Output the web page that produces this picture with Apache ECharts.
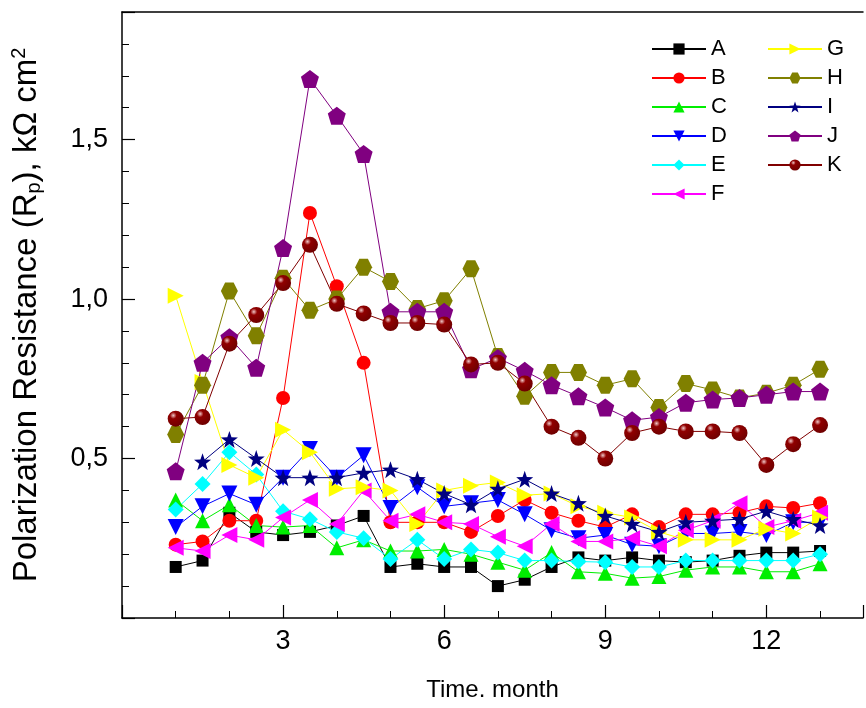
<!DOCTYPE html>
<html>
<head>
<meta charset="utf-8">
<script src="https://cdn.jsdelivr.net/npm/echarts@6/dist/echarts.min.js"></script>
<style>
  html, body { margin: 0; padding: 0; background: #fff; }
  #chart { width: 866px; height: 708px; }
</style>
</head>
<body>
<div id="chart"></div>
<script>
// time points, month
var months = [1, 1.5, 2, 2.5, 3, 3.5, 4, 4.5, 5, 5.5, 6, 6.5, 7, 7.5, 8, 8.5, 9, 9.5, 10, 10.5, 11, 11.5, 12, 12.5, 13];

// Rp values, kOhm cm2
var A = [0.16, 0.18, 0.33, 0.27, 0.26, 0.27, 0.29, 0.32, 0.16, 0.17, 0.16, 0.16, 0.10, 0.12, 0.16, 0.19, 0.18, 0.19, 0.18, 0.175, 0.18, 0.195, 0.205, 0.205, 0.21];
var B = [0.23, 0.24, 0.305, 0.305, 0.69, 1.27, 1.04, 0.80, 0.30, 0.30, 0.30, 0.27, 0.32, 0.37, 0.33, 0.305, 0.285, 0.325, 0.285, 0.325, 0.325, 0.33, 0.35, 0.345, 0.36];
var C = [0.37, 0.305, 0.355, 0.29, 0.285, 0.29, 0.22, 0.245, 0.21, 0.21, 0.215, 0.20, 0.175, 0.15, 0.205, 0.145, 0.14, 0.125, 0.13, 0.15, 0.16, 0.16, 0.145, 0.145, 0.17];
var D = [0.285, 0.35, 0.39, 0.355, 0.44, 0.53, 0.44, 0.51, 0.345, 0.41, 0.35, 0.36, 0.37, 0.325, 0.275, 0.25, 0.26, 0.23, 0.225, 0.265, 0.265, 0.27, 0.26, 0.30, 0.30];
var E = [0.34, 0.42, 0.52, 0.45, 0.335, 0.31, 0.27, 0.25, 0.185, 0.245, 0.185, 0.215, 0.205, 0.18, 0.18, 0.177, 0.175, 0.16, 0.16, 0.18, 0.18, 0.18, 0.18, 0.18, 0.20];
var F = [0.22, 0.21, 0.26, 0.245, 0.315, 0.37, 0.295, 0.40, 0.305, 0.325, 0.30, 0.295, 0.255, 0.225, 0.295, 0.24, 0.24, 0.25, 0.225, 0.275, 0.305, 0.36, 0.285, 0.305, 0.33];
var G = [1.01, 0.74, 0.48, 0.44, 0.59, 0.52, 0.405, 0.41, 0.40, 0.295, 0.40, 0.415, 0.425, 0.385, 0.39, 0.35, 0.33, 0.315, 0.27, 0.245, 0.245, 0.245, 0.28, 0.265, 0.315];
var H = [0.575, 0.73, 1.025, 0.885, 1.065, 0.965, 1.0, 1.10, 1.055, 0.97, 0.995, 1.095, 0.82, 0.695, 0.77, 0.77, 0.73, 0.75, 0.66, 0.735, 0.715, 0.69, 0.705, 0.73, 0.78];
var I = [null, 0.49, 0.56, 0.50, 0.44, 0.44, 0.44, 0.455, 0.465, 0.435, 0.39, 0.355, 0.405, 0.435, 0.39, 0.36, 0.32, 0.295, 0.27, 0.30, 0.305, 0.31, 0.335, 0.31, 0.29];
var J = [0.46, 0.80, 0.88, 0.785, 1.16, 1.69, 1.575, 1.455, 0.96, 0.96, 0.96, 0.78, 0.815, 0.775, 0.73, 0.695, 0.66, 0.62, 0.63, 0.675, 0.685, 0.69, 0.70, 0.71, 0.71];
var K = [0.625, 0.63, 0.86, 0.95, 1.05, 1.17, 0.985, 0.955, 0.925, 0.925, 0.92, 0.795, 0.80, 0.735, 0.60, 0.565, 0.50, 0.58, 0.60, 0.585, 0.585, 0.58, 0.48, 0.545, 0.605];

var names = ['A', 'B', 'C', 'D', 'E', 'F', 'G', 'H', 'I', 'J', 'K'];
var values = [A, B, C, D, E, F, G, H, I, J, K];
var colors = ['#000000', '#ff0000', '#00ee00', '#0000ff', '#00ffff', '#ff00ff', '#ffff00', '#808000', '#000080', '#800080', '#800000'];

var triDown = 'path://M-10,-8.66 L10,-8.66 L0,8.66 Z';
var triLeft = 'path://M-8.66,0 L8.66,-10 L8.66,10 Z';
var triRight = 'path://M8.66,0 L-8.66,-10 L-8.66,10 Z';
var hexagon = 'path://M-5,-8.66 L5,-8.66 L10,0 L5,8.66 L-5,8.66 L-10,0 Z';
var star = 'path://M0,-10 L2.35,-3.24 L9.51,-3.09 L3.8,1.24 L5.88,8.09 L0,4 L-5.88,8.09 L-3.8,1.24 L-9.51,-3.09 L-2.35,-3.24 Z';
var pentagon = 'path://M0,-10 L9.51,-3.09 L5.88,8.09 L-5.88,8.09 L-9.51,-3.09 Z';
var symbols = ['rect', 'circle', 'triangle', triDown, 'diamond', triLeft, triRight, hexagon, star, pentagon, 'circle'];
var sizes = [12, 14, 15, 16, 16, 16, 16, 17, 17, 18, 16];

var font = 'Liberation Sans, Arial, sans-serif';

var series = names.map(function (n, i) {
    var col = colors[i];
    if (n == 'K') {
        col = new echarts.graphic.RadialGradient(0.35, 0.3, 0.7, [
            {offset: 0, color: '#f0c8c8'},
            {offset: 0.3, color: '#900000'},
            {offset: 1, color: '#700000'}
        ]);
    }
    return {
        name: n,
        type: 'line',
        data: months.map(function (m, j) { return [m, values[i][j]]; }),
        symbol: symbols[i],
        symbolSize: sizes[i],
        showAllSymbol: true,
        connectNulls: false,
        lineStyle: {color: colors[i], width: 1},
        itemStyle: {color: col, borderWidth: 0},
        emphasis: {disabled: true},
        animation: false
    };
});

var myChart = echarts.init(document.getElementById('chart'));

var legendBase = {
    orient: 'vertical',
    top: 33,
    itemWidth: 54,
    itemHeight: 14,
    itemGap: 7,
    textStyle: {fontFamily: font, fontSize: 22, color: '#000'},
    selectedMode: false
};

var option = {
    backgroundColor: '#fff',
    animation: false,
    grid: {left: 122, top: 12, right: 0, bottom: 90},
    legend: [
        Object.assign({}, legendBase, {left: 646, data: names.slice(0, 6)}),
        Object.assign({}, legendBase, {left: 762, data: names.slice(6)})
    ],
    xAxis: [{
        type: 'value',
        min: 0, max: 13.8, interval: 3,
        name: 'Time. month',
        nameLocation: 'middle',
        nameGap: 60,
        nameTextStyle: {fontFamily: font, fontSize: 24, color: '#000'},
        axisLine: {show: true, lineStyle: {color: '#000', width: 1.5}},
        axisTick: {show: true, inside: true, length: 13, lineStyle: {color: '#000', width: 1.2}},
        minorTick: {show: true, splitNumber: 3, length: 7, lineStyle: {color: '#000', width: 1}},
        splitLine: {show: false},
        axisLabel: {
            fontFamily: font, fontSize: 27, color: '#000', margin: 10,
            formatter: function (v) { return (v == 0 || v > 13) ? '' : String(v); }
        }
    }, {
        type: 'value',
        position: 'top',
        min: 0, max: 13.8,
        axisLine: {show: true, lineStyle: {color: '#000', width: 1.5}},
        axisTick: {show: false},
        axisLabel: {show: false},
        splitLine: {show: false}
    }],
    yAxis: {
        type: 'value',
        min: 0, max: 1.9, interval: 0.5,
        name: 'Polarization Resistance (R{sub|p}), kΩ cm{sup|2}',
        nameLocation: 'middle',
        nameRotate: 90,
        nameGap: 78,
        nameTextStyle: {
            fontFamily: font, fontSize: 33, color: '#000',
            rich: {
                sub: {fontFamily: font, fontSize: 20, color: '#000', padding: [15, 0, 0, 0]},
                sup: {fontFamily: font, fontSize: 20, color: '#000', padding: [0, 0, 15, 0]}
            }
        },
        axisLine: {show: true, lineStyle: {color: '#000', width: 1.5}},
        axisTick: {show: true, inside: true, length: 13, lineStyle: {color: '#000', width: 1.2}},
        minorTick: {show: true, splitNumber: 5, length: 7, lineStyle: {color: '#000', width: 1}},
        splitLine: {show: false},
        axisLabel: {
            fontFamily: font, fontSize: 27, color: '#000', margin: 14,
            formatter: function (v) { return (v == 0 || v > 1.6) ? '' : v.toFixed(1).replace('.', ','); }
        }
    },
    series: series
};

myChart.setOption(option);
</script>
</body>
</html>
